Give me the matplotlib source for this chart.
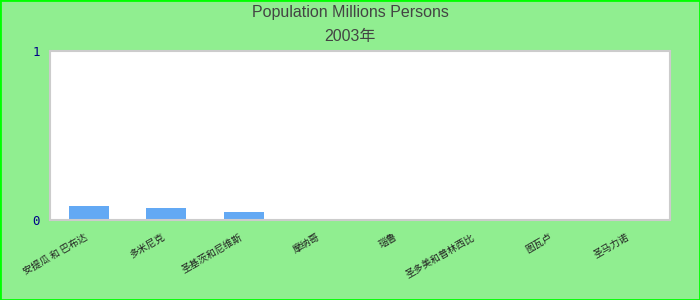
import matplotlib
matplotlib.use("Agg")
import matplotlib.pyplot as plt
import matplotlib.transforms as mtransforms
import numpy as np

title_line1 = "Population Millions Persons"
title_line2 = "2003年"
categories = ["安提瓜 和 巴布达", "多米尼克", "圣基茨和尼维斯", "摩纳哥", "瑙鲁",
              "圣多美和普林西比", "图瓦卢", "圣马力诺"]
values = [0.085, 0.073, 0.049, 0, 0, 0, 0, 0]
y_ticks = [0, 1]

fig = plt.figure(figsize=(7, 3), dpi=100, facecolor="#90ee90")
fig.patches.append(plt.Rectangle((0, 0), 1, 1, transform=fig.transFigure,
                                 fill=False, edgecolor="#00ff00", linewidth=2))
ax = fig.add_axes([50 / 700, 1 - 220 / 300, 620 / 700, 169 / 300])
ax.set_facecolor("white")
x = np.arange(len(categories))
ax.bar(x, values, width=0.52, color="#63a9f4")
ax.set_xlim(-0.5, len(categories) - 0.5)
ax.set_ylim(0, 1)
ax.set_yticks(y_ticks)
ax.set_yticklabels([str(v) for v in y_ticks], family="DejaVu Sans Mono",
                   fontsize=9, color="#000088")
ax.set_xticks(x)
ax.set_xticklabels(categories, rotation=30, ha="right",
                   family=["Noto Sans CJK SC", "DejaVu Sans"], fontsize=7, color="#222222")
offset = mtransforms.ScaledTranslation(-6 / 100, 0, fig.dpi_scale_trans)
for lab in ax.get_xticklabels():
    lab.set_transform(lab.get_transform() + offset)
ax.tick_params(axis="both", length=0)
ax.tick_params(axis="y", pad=7.5)
ax.tick_params(axis="x", pad=8.5)
for s in ax.spines.values():
    s.set_color("#cccccc")
    s.set_linewidth(1.5)
fig.text(0.5, 1 - 13 / 300, title_line1, ha="center", va="center",
         family=["Liberation Sans", "Noto Sans CJK SC"], fontsize=11.5, color="#444444")
fig.text(0.5, 1 - 36 / 300, title_line2, ha="center", va="center",
         family=["Liberation Sans", "Noto Sans CJK SC"], fontsize=11.5, color="#444444")
fig.savefig("out.png", dpi=100, facecolor=fig.get_facecolor())
